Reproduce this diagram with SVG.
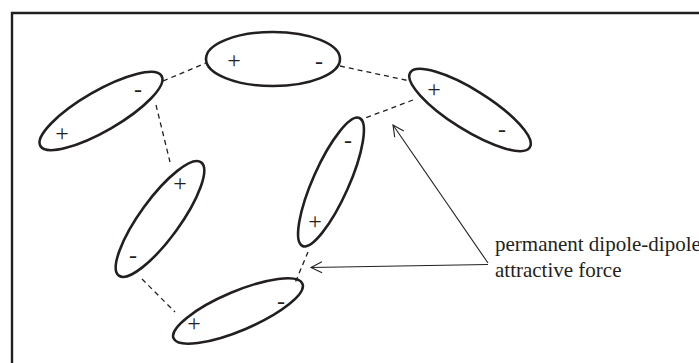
<svg xmlns="http://www.w3.org/2000/svg" width="699" height="363" viewBox="0 0 699 363">
<style>
.mol{fill:none;stroke:#231f20;stroke-width:2.6}
.sign{font-family:"Liberation Serif","Times New Roman",serif;font-size:24px;fill:#231f20;text-anchor:middle}
.dash{stroke:#231f20;stroke-width:1.3;stroke-dasharray:5 4;fill:none}
.arr{stroke:#231f20;stroke-width:1.1;fill:none}
.lbl{font-family:"Liberation Serif","Times New Roman",serif;font-size:21px;fill:#231f20}
</style>
<defs>
<marker id="open" markerUnits="userSpaceOnUse" markerWidth="16" markerHeight="14" refX="12" refY="6" orient="auto" viewBox="0 0 16 12">
<path d="M1,0.5 L12,6 L1,11.5" fill="none" stroke="#231f20" stroke-width="1.1"/>
</marker>
</defs>
<rect width="699" height="363" fill="#fff"/>
<path d="M12,363 V13 H699" fill="none" stroke="#231f20" stroke-width="2.4"/>
<g id="connectors">
<line class="dash" x1="163" y1="81" x2="206" y2="63"/>
<line class="dash" x1="340" y1="66" x2="410" y2="81"/>
<line class="dash" x1="413" y1="100" x2="360" y2="120"/>
<line class="dash" x1="156" y1="105" x2="170" y2="162"/>
<line class="dash" x1="142" y1="279" x2="175" y2="312"/>
<line class="dash" x1="308" y1="252" x2="295" y2="283"/>
<line class="arr" x1="488" y1="263" x2="393" y2="125" marker-end="url(#open)"/>
<line class="arr" x1="488" y1="264.5" x2="311" y2="267.5" marker-end="url(#open)"/>
</g>
<g id="mol-top">
<ellipse class="mol" cx="273" cy="59" rx="67" ry="27"/>
<text class="sign" x="234" y="68">+</text>
<text class="sign" x="319" y="69">-</text>
</g>
<g id="mol-upper-left">
<ellipse class="mol" cx="101" cy="111" rx="70" ry="20" transform="rotate(-30 101 111)"/>
<text class="sign" x="62" y="141">+</text>
<text class="sign" x="138" y="97">-</text>
</g>
<g id="mol-upper-right">
<ellipse class="mol" cx="470" cy="110" rx="70.5" ry="20" transform="rotate(32 470 110)"/>
<text class="sign" x="434" y="97">+</text>
<text class="sign" x="502" y="137">-</text>
</g>
<g id="mol-middle-right">
<ellipse class="mol" cx="331" cy="182" rx="70" ry="18" transform="rotate(-66 331 182)"/>
<text class="sign" x="315" y="229">+</text>
<text class="sign" x="348" y="148">-</text>
</g>
<g id="mol-middle-left">
<ellipse class="mol" cx="160" cy="219" rx="70" ry="20" transform="rotate(-54 160 219)"/>
<text class="sign" x="180" y="191">+</text>
<text class="sign" x="133" y="263">-</text>
</g>
<g id="mol-bottom">
<ellipse class="mol" cx="238" cy="311" rx="70" ry="19.5" transform="rotate(-23 238 311)"/>
<text class="sign" x="194" y="331">+</text>
<text class="sign" x="281" y="309">-</text>
</g>
<g id="label">
<text class="lbl" x="495" y="251">permanent dipole-dipole</text>
<text class="lbl" x="495" y="277">attractive force</text>
</g>
</svg>
